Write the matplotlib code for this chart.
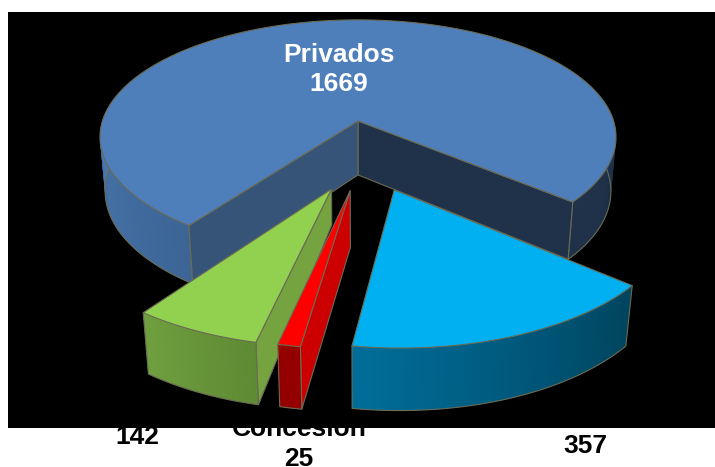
import numpy as np
import matplotlib
matplotlib.use('Agg')
import matplotlib.pyplot as plt
from matplotlib.colors import to_rgb
from matplotlib.patches import Polygon, Rectangle

# Slice values, clockwise from the big one
names = ['Privados', 'Otros', 'Concesión', 'Autonomos']
values = np.array([1669, 357, 25, 142])

plt.rcParams['font.family'] = ['Liberation Sans', 'DejaVu Sans']

# exploded offset of each slice on the pie plane
offsets = [(0, 0), (0.131, -0.554), (-0.028, -0.558), (-0.096, -0.548)]
top_colors = ['#4f7fbb', '#00b0f0', '#ff0000', '#92d050']
# outer wall colours, from the start of the arc to its clockwise end
wall_colors = [['#3c6596', '#4b79b0'], ['#00445e', '#006e9a'],
               ['#a00000', '#a00000'], ['#5f8a35', '#6f9f3e']]
face_colors = ['#365478', None, '#cc0000', '#75a340']
# how far down the inner edge of a cut face reaches
face_depth = [1, 1, 1, 0.62]
edge = '#6b6b55'

# projection of the pie plane on to the picture
cx, cy = 358, 121
A, B = 255.6, 115
q, r = 0.137, 0.02
H = 55


def project(x, y, z=0):
    # z = 0 is the top of the pie and z = 1 the bottom
    w = 1 + q * y + r * z
    return cx + A * x / w, cy + (-B * y + H * z) / w


def arc(start, end, off, n=80):
    t = np.radians(np.linspace(start, end, n))
    return np.cos(t) + off[0], np.sin(t) + off[1]


def wall(ax, start, end, off, colors, z):
    x, y = arc(start, end, off)
    c0 = np.array(to_rgb(colors[0]))
    c1 = np.array(to_rgb(colors[1]))
    for i in range(len(x) - 1):
        f = i / (len(x) - 2)
        # each strip runs under the next one, so no seams show
        j = min(i + 2, len(x) - 1)
        px = np.array([x[i], x[j], x[j], x[i]])
        py = np.array([y[i], y[j], y[j], y[i]])
        pz = np.array([0, 0, 1, 1])
        sx, sy = project(px, py, pz)
        ax.add_patch(Polygon(np.c_[sx, sy], fc=c0 + (c1 - c0) * f, ec='none', lw=0, zorder=z))
    # outline of the wall
    sx, sy = project(x, y, 0)
    bx, by = project(x, y, 1)
    ax.plot(np.r_[sx[0], bx, sx[-1]], np.r_[sy[0], by, sy[-1]], color=edge, lw=0.8, zorder=z)


def radial_face(ax, angle, off, color, z, depth=1):
    t = np.radians(angle)
    px = np.array([off[0], off[0] + np.cos(t), off[0] + np.cos(t), off[0]])
    py = np.array([off[1], off[1] + np.sin(t), off[1] + np.sin(t), off[1]])
    pz = np.array([0, 0, 1, depth])
    sx, sy = project(px, py, pz)
    ax.add_patch(Polygon(np.c_[sx, sy], fc=color, ec=edge, lw=0.8, zorder=z))


def top(ax, start, end, off, color, z):
    x, y = arc(start, end, off, 200)
    sx, sy = project(np.r_[off[0], x], np.r_[off[1], y])
    ax.add_patch(Polygon(np.c_[sx, sy], fc=color, ec=edge, lw=0.8, zorder=z))


fig = plt.figure(figsize=(7.15, 4.67), dpi=100)
ax = fig.add_axes([0, 0, 1, 1])
ax.set_xlim(0, 715)
ax.set_ylim(467, 0)
ax.axis('off')

# the labels sit below the black panel, which cuts off "Concesión"
label_style = dict(ha='center', va='center', fontsize=19, fontweight='bold', color='black', zorder=1)
ax.text(137, 437, str(values[3]), **label_style)
ax.text(299, 429, names[2], **label_style)
ax.text(299, 459, str(values[2]), **label_style)
ax.text(585, 446, str(values[1]), **label_style)
ax.add_patch(Rectangle((8, 12), 707, 415.5, fc='black', ec='none', zorder=2))

# slice angles come from the values, the big slice ends at -40 degrees
sweep = values / values.sum() * 360
a = -40.0 + sweep[0]
angles = []
for s in sweep:
    angles.append((a, a - s))
    a -= s

# Privados first, walls then cut faces then top
a0, a1 = angles[0]
wall(ax, a0, a0 - 60, offsets[0], wall_colors[0], 3)
wall(ax, a1 + 45, a1, offsets[0], ['#1f3249', '#1f3249'], 3)
radial_face(ax, a1, offsets[0], '#1f3249', 4)
radial_face(ax, a0, offsets[0], face_colors[0], 4)
top(ax, a0, a1, offsets[0], top_colors[0], 5)

# green, red, blue in that order so nearer ones overlap
z = 6
for i in [3, 2, 1]:
    a0, a1 = angles[i]
    if face_colors[i]:
        radial_face(ax, a0, offsets[i], face_colors[i], z, face_depth[i])
    wall(ax, a0, a1, offsets[i], wall_colors[i], z + 1)
    top(ax, a0, a1, offsets[i], top_colors[i], z + 2)
    z += 3

ax.text(339, 55, names[0], ha='center', va='center', fontsize=19, fontweight='bold', color='white', zorder=30)
ax.text(339, 84, str(values[0]), ha='center', va='center', fontsize=19, fontweight='bold', color='white', zorder=30)

fig.savefig('out.png', dpi=100)
